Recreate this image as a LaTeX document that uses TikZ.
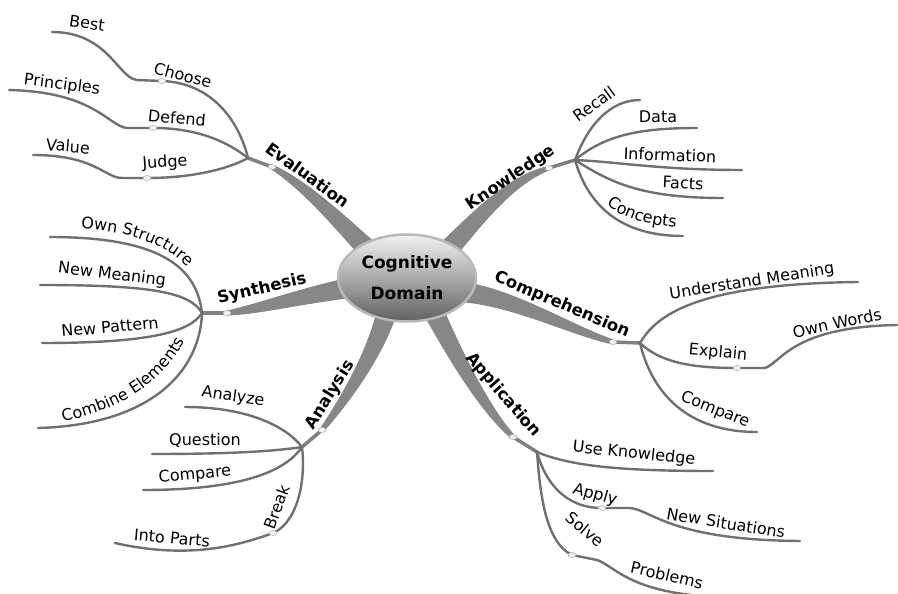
\documentclass[tikz,border=0pt]{standalone}
\usepackage{fontspec}
\setmainfont{DejaVu Sans}
\usepackage{tikz}
\usetikzlibrary{calc,shapes.geometric,decorations.text}

\newcommand{\leaffont}{\fontsize{16}{18}\selectfont}

\tikzset{
  trunk/.style={fill=black!47},
  stem/.style={draw=black!50, line width=3.5pt},
  twig/.style={draw=black!56, line width=2.4pt, line cap=round},
  knob/.style={fill=gray!10, draw=gray!60, line width=0.6pt},
  leaf/.style={inner sep=0pt, font=\leaffont},
  topic/.style={inner sep=0pt, font=\bfseries\fontsize{16.5}{18}\selectfont},
  bent/.style={decorate, decoration={text along path, text align=center,
    text={|\leaffont|#1}}},
}

% tapered main branch: start, control, control, end, half width at start, half width at end
\newcommand{\trunk}[6]{%
  \path ($(#1)!1pt!90:(#4)$) coordinate (nrm);
  \fill[trunk] ($(#1)+#5*(nrm)-#5*(#1)$)
    .. controls ($(#2)+{(2*#5+#6)/3}*(nrm)-{(2*#5+#6)/3}*(#1)$)
    and ($(#3)+{(#5+2*#6)/3}*(nrm)-{(#5+2*#6)/3}*(#1)$)
    .. ($(#4)+#6*(nrm)-#6*(#1)$)
    -- ($(#4)-#6*(nrm)+#6*(#1)$)
    .. controls ($(#3)-{(#5+2*#6)/3}*(nrm)+{(#5+2*#6)/3}*(#1)$)
    and ($(#2)-{(2*#5+#6)/3}*(nrm)+{(2*#5+#6)/3}*(#1)$)
    .. ($(#1)-#5*(nrm)+#5*(#1)$) -- cycle;
}

\begin{document}
\begin{tikzpicture}[x=1pt,y=-1pt]
  \useasboundingbox (0,0) rectangle (898,594);

  \coordinate (ctr) at (407,278);

  % main branches
  \coordinate (ev0) at (370,252); \coordinate (evd) at (272,167); \coordinate (ev) at (248,158);
  \coordinate (kn0) at (446,252); \coordinate (knd) at (549,168); \coordinate (kn) at (575,160);
  \coordinate (co0) at (462,292); \coordinate (cod) at (613,342); \coordinate (co) at (640,343);
  \coordinate (ap0) at (432,308); \coordinate (apd) at (513,437); \coordinate (ap) at (537,452);
  \coordinate (an0) at (388,308); \coordinate (and) at (322,430); \coordinate (an) at (302,447);
  \coordinate (sy0) at (355,287); \coordinate (syd) at (227,313); \coordinate (sy) at (202,313);

  \trunk{ev0}{340,222}{305,185}{evd}{10.5}{2.5}
  \trunk{kn0}{478,218}{510,180}{knd}{10.5}{2.5}
  \trunk{co0}{515,298}{570,330}{cod}{10.5}{2.5}
  \trunk{ap0}{455,355}{485,410}{apd}{10.5}{2.5}
  \trunk{an0}{375,355}{345,400}{and}{10.5}{2.5}
  \trunk{sy0}{300,296}{255,310}{syd}{10.5}{2.5}

  \draw[stem] (evd) -- (ev);
  \draw[stem] (knd) -- (kn);
  \draw[stem] (cod) -- (co);
  \draw[stem] (apd) -- (ap);
  \draw[stem] (and) -- (an);
  \draw[stem] (syd) -- (sy);

  % Evaluation
  \coordinate (chs) at (162,81); \coordinate (chs2) at (137,80); \coordinate (bst) at (52,32);
  \coordinate (def) at (153,128); \coordinate (def2) at (127,128); \coordinate (prn) at (9,90);
  \coordinate (jdg) at (147,178); \coordinate (jdg2) at (122,178); \coordinate (val) at (33,155);
  \draw[twig] (ev) .. controls (240,125) and (215,83) .. (chs) -- (chs2)
    .. controls (118,78) and (108,32) .. (bst);
  \draw[twig] (ev) .. controls (225,140) and (195,128) .. (def) -- (def2)
    .. controls (108,126) and (95,92) .. (prn);
  \draw[twig] (ev) .. controls (230,168) and (195,178) .. (jdg) -- (jdg2)
    .. controls (105,178) and (95,155) .. (val);

  % Synthesis
  \coordinate (own) at (50,237); \coordinate (mean) at (40,285);
  \coordinate (patt) at (42,343); \coordinate (comb) at (38,428);
  \draw[twig] (sy) .. controls (197,270) and (165,237) .. (own);
  \draw[twig] (sy) .. controls (190,292) and (150,285) .. (mean);
  \draw[twig] (sy) .. controls (190,332) and (150,343) .. (patt);
  \draw[twig] (sy) .. controls (200,372) and (150,425) .. (comb);

  % Analysis
  \coordinate (anz) at (185,407); \coordinate (que) at (152,454);
  \coordinate (cmp) at (143,490); \coordinate (brk) at (273,533); \coordinate (prt) at (115,543);
  \draw[twig] (an) .. controls (285,425) and (245,407) .. (anz);
  \draw[twig] (an) .. controls (270,452) and (220,454) .. (que);
  \draw[twig] (an) .. controls (285,472) and (240,490) .. (cmp);
  \draw[twig] (an) .. controls (306,480) and (298,522) .. (brk)
    .. controls (240,545) and (190,560) .. (prt);

  % Knowledge
  \coordinate (rec) at (640,100); \coordinate (dat) at (697,128); \coordinate (inf) at (742,170);
  \coordinate (fac) at (723,198); \coordinate (con) at (683,236);
  \draw[twig] (kn) .. controls (588,125) and (610,100) .. (rec);
  \draw[twig] (kn) .. controls (605,135) and (640,128) .. (dat);
  \draw[twig] (kn) .. controls (620,162) and (660,170) .. (inf);
  \draw[twig] (kn) .. controls (610,182) and (640,198) .. (fac);
  \draw[twig] (kn) .. controls (588,205) and (620,236) .. (con);

  % Comprehension
  \coordinate (und) at (858,282); \coordinate (exp) at (737,368); \coordinate (exp2) at (765,368);
  \coordinate (wrd) at (897,325); \coordinate (cmq) at (757,432);
  \draw[twig] (co) .. controls (655,318) and (690,284) .. (und);
  \draw[twig] (co) .. controls (660,362) and (690,368) .. (exp) -- (exp2)
    .. controls (782,362) and (792,327) .. (wrd);
  \draw[twig] (co) .. controls (650,385) and (680,432) .. (cmq);

  % Application
  \coordinate (use) at (713,471); \coordinate (apl) at (602,508); \coordinate (apl2) at (630,508);
  \coordinate (sit) at (800,541); \coordinate (slv) at (572,555); \coordinate (slv2) at (597,560);
  \coordinate (prb) at (720,597);
  \draw[twig] (ap) .. controls (570,466) and (620,471) .. (use);
  \draw[twig] (ap) .. controls (545,482) and (565,508) .. (apl) -- (apl2)
    .. controls (652,510) and (670,540) .. (sit);
  \draw[twig] (ap) .. controls (540,492) and (545,542) .. (slv) -- (slv2)
    .. controls (615,566) and (630,594) .. (prb);

  % knobs
  \foreach \k in {evd,knd,cod,apd,and,syd,chs,def,jdg,exp,apl,slv,brk}
    \filldraw[knob] (\k) ellipse (4 and 2.5);

  % centre
  \node[ellipse, minimum width=133pt, minimum height=87pt, top color=gray!10,
    bottom color=black!62, draw=gray!55, line width=2.5pt, align=center,
    font=\bfseries\fontsize{17}{31}\selectfont] (cog) at (ctr) {Cognitive\\Domain};

  % labels
  \node[topic, rotate=-36] (evl) at (308,175) {Evaluation};
  \node[topic, rotate=34] (knl) at (511,178) {Knowledge};
  \node[topic, rotate=-23] (col) at (562,305) {Comprehension};
  \node[topic, rotate=-49] (apll) at (503,395) {Application};
  \node[topic, rotate=58] (anl) at (330,395) {Analysis};
  \node[topic, rotate=13] (syl) at (262,289) {Synthesis};

  \node[leaf, rotate=-8] (bstl) at (87,23) {Best};
  \node[leaf, rotate=-15] (chsl) at (183,75) {Choose};
  \node[leaf, rotate=-7] (prnl) at (62,85) {Principles};
  \node[leaf, rotate=-5] (defl) at (177,118) {Defend};
  \node[leaf, rotate=-5] (vall) at (68,146) {Value};
  \node[leaf, rotate=4] (jdgl) at (165,163) {Judge};

  \path[bent={Own Structure}] (60,229) .. controls (120,226) and (178,244) .. (200,284);
  \node[leaf, rotate=-7] (meanl) at (112,275) {New Meaning};
  \node[leaf, rotate=5] (pattl) at (110,327) {New Pattern};
  \path[bent={Combine Elements}] (46,424) .. controls (110,416) and (168,386) .. (192,326);

  \node[leaf, rotate=-8] (anzl) at (233,397) {Analyze};
  \node[leaf] (quel) at (205,440) {Question};
  \node[leaf, rotate=5] (cmpl) at (195,475) {Compare};
  \node[leaf, rotate=70] (brkl) at (277,507) {Break};
  \node[leaf, rotate=-5] (prtl) at (172,538) {Into Parts};

  \node[leaf, rotate=36] (recl) at (594,104) {Recall};
  \node[leaf] (datl) at (658,117) {Data};
  \node[leaf, rotate=-2] (infl) at (670,155) {Information};
  \node[leaf, rotate=-3] (facl) at (683,183) {Facts};
  \path[bent={Concepts}] (598,196) .. controls (615,216) and (642,226) .. (688,228);

  \node[leaf, rotate=9] (undl) at (752,282) {Understand Meaning};
  \node[leaf, rotate=-5] (expl) at (718,353) {Explain};
  \node[leaf, rotate=12] (wrdl) at (837,323) {Own Words};
  \node[leaf, rotate=-22] (cmql) at (715,410) {Compare};

  \node[leaf, rotate=-6] (usel) at (634,454) {Use Knowledge};
  \node[leaf, rotate=-16] (apll2) at (595,495) {Apply};
  \node[leaf, rotate=-9] (sitl) at (726,523) {New Situations};
  \node[leaf, rotate=-40] (slvl) at (585,529) {Solve};
  \node[leaf, rotate=-13] (prbl) at (667,575) {Problems};
\end{tikzpicture}
\end{document}
